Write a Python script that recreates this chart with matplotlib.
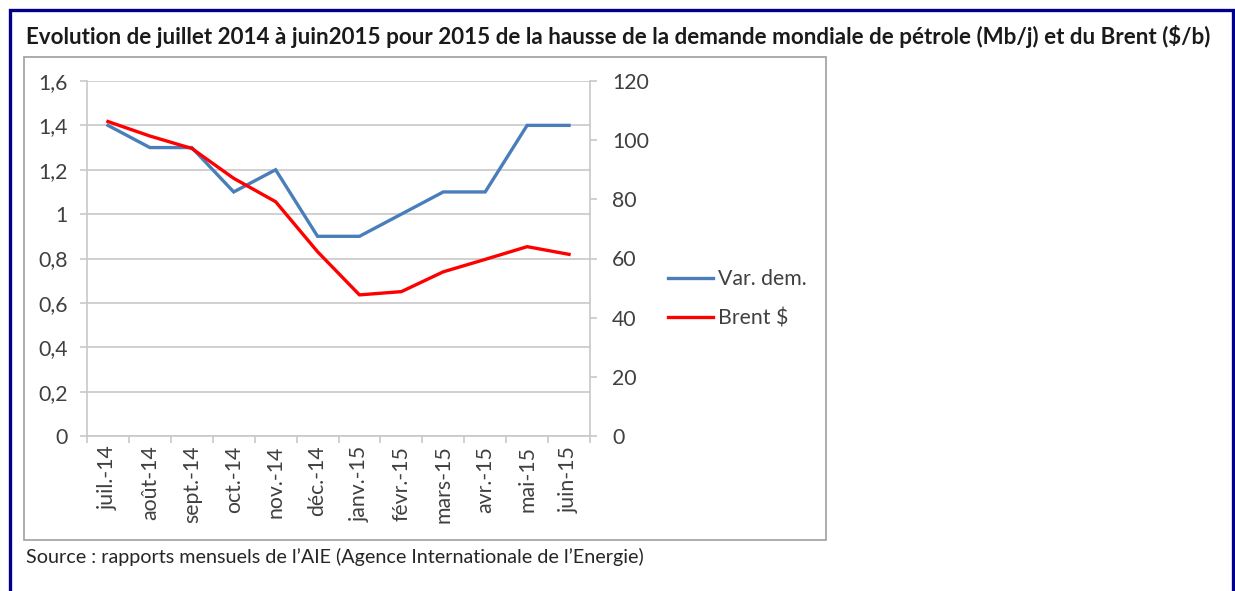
#!/usr/bin/env python3
"""Demande mondiale de petrole vs Brent, juillet 2014 - juin 2015."""
import matplotlib

matplotlib.use("Agg")
import matplotlib.pyplot as plt
from matplotlib.patches import Rectangle
from matplotlib.ticker import FixedLocator, FuncFormatter

months = ["juil.-14", "août-14", "sept.-14", "oct.-14", "nov.-14", "déc.-14",
          "janv.-15", "févr.-15", "mars-15", "avr.-15", "mai-15", "juin-15"]
var_dem = [1.4, 1.3, 1.3, 1.1, 1.2, 0.9, 0.9, 1.0, 1.1, 1.1, 1.4, 1.4]
brent = [106.3, 101.4, 97.2, 87.1, 79.2, 62.3, 47.7, 48.8, 55.5, 59.7, 64.0, 61.4]
left_ticks = [0, 0.2, 0.4, 0.6, 0.8, 1.0, 1.2, 1.4, 1.6]
right_ticks = [0, 20, 40, 60, 80, 100, 120]

W, H = 1235, 591
FONT = ["Lato", "DejaVu Sans"]
TXT = "#404040"
GRID = "#c8c8c8"
TICK_FS = 15.3

plt.rcParams["font.family"] = FONT

fig = plt.figure(figsize=(W / 100, H / 100), dpi=100)


def fx(px):
    return px / W


def fy(py):
    return 1 - py / H


# navy outer frame (bottom edge is cut off in the original)
fig.patches.append(Rectangle((fx(9.5), fy(H + 20)), fx(1232.5) - fx(9.5), fy(9.5) - fy(H + 20),
                             transform=fig.transFigure, fill=False, edgecolor="#00008b", lw=2.4))
# grey chart box
fig.patches.append(Rectangle((fx(23.5), fy(540)), fx(826) - fx(23.5), fy(57) - fy(540),
                             transform=fig.transFigure, fill=False, edgecolor="#a6a6a6", lw=1.3))

fig.text(fx(26), fy(37), "Evolution de juillet 2014 à juin2015 pour 2015 de la hausse de la demande "
         "mondiale de pétrole (Mb/j) et du Brent ($/b)", fontsize=16.1, fontweight="bold",
         color="#1a1a1a", va="center", ha="left")
fig.text(fx(26), fy(557), "Source : rapports mensuels de l\u2019AIE (Agence Internationale de l\u2019Energie)",
         fontsize=14.2, color="#262626", va="center", ha="left")

ax = fig.add_axes([fx(87), fy(436), fx(590) - fx(87), fy(81) - fy(436)])
x = list(range(len(months)))
l1, = ax.plot(x, var_dem, color="#4a7ebb", lw=2.4, solid_joinstyle="miter", label="Var. dem.")
ax.set_xlim(-0.5, len(months) - 0.5)
ax.set_ylim(0, 1.6)
ax.yaxis.set_major_locator(FixedLocator(left_ticks))
ax.yaxis.set_major_formatter(FuncFormatter(lambda v, p: f"{v:g}".replace(".", ",")))
ax.grid(axis="y", color=GRID, lw=1.2)
ax.set_axisbelow(True)

ax.set_xticks(x)
ax.set_xticklabels(months, rotation=90, fontsize=TICK_FS, color=TXT)
ax.tick_params(axis="x", which="major", length=0, pad=7)
ax.set_xticks([i + 0.5 for i in range(-1, len(months))], minor=True)
ax.tick_params(axis="x", which="minor", length=5, color=GRID, width=1.2, direction="out")
ax.tick_params(axis="y", length=5, color=GRID, width=1.2, labelsize=TICK_FS, labelcolor=TXT, pad=9)

for side in ("top", "right"):
    ax.spines[side].set_visible(False)
for side in ("left", "bottom"):
    ax.spines[side].set_color(GRID)
    ax.spines[side].set_linewidth(1.2)

ax2 = ax.twinx()
l2, = ax2.plot(x, brent, color="#ff0000", lw=2.4, label="Brent $")
ax2.set_ylim(0, 120)
ax2.yaxis.set_major_locator(FixedLocator(right_ticks))
ax2.tick_params(axis="y", length=5, color=GRID, width=1.2, labelsize=TICK_FS, labelcolor=TXT, pad=11)
for side in ("top", "left", "bottom"):
    ax2.spines[side].set_visible(False)
ax2.spines["right"].set_color(GRID)
ax2.spines["right"].set_linewidth(1.2)

fig.legend(handles=[l1, l2], loc="center left", bbox_to_anchor=(fx(649), fy(299)),
           frameon=False, fontsize=TICK_FS, labelcolor=TXT, handlelength=2.1,
           handletextpad=0.23, labelspacing=0.9)

fig.savefig("out.png", dpi=100)
